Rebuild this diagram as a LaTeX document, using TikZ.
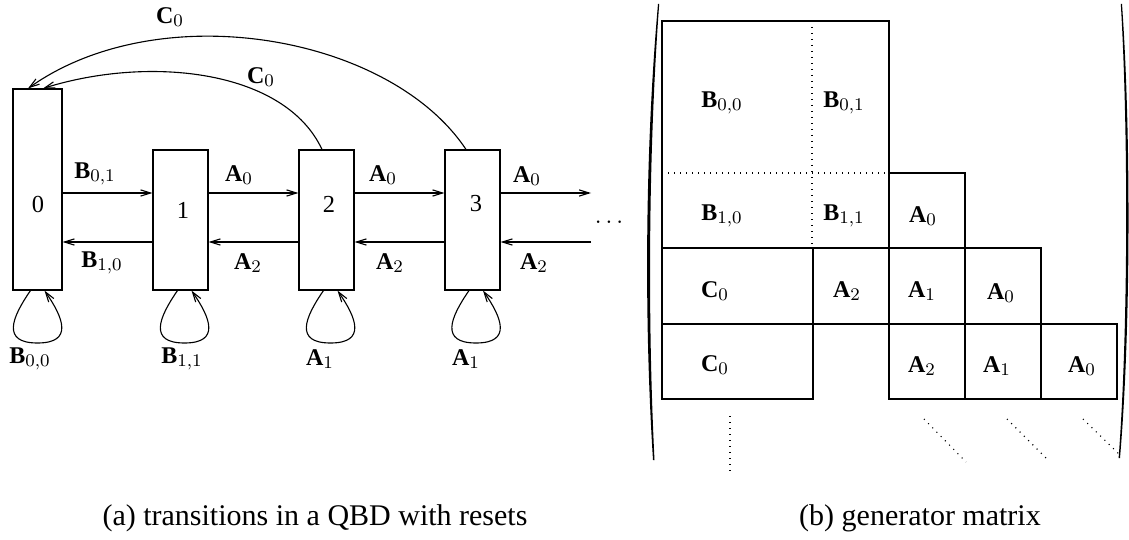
\documentclass[tikz,border=0pt]{standalone}
\usepackage{fontspec}
\setmainfont{Liberation Serif}
\usetikzlibrary{arrows.meta}

% self-loop below a state: #1 = state node, #2 = x of the loop's centre
\newcommand\selfloop[2]{%
  \draw[arr] (#1.south -| #2-7,0)
    .. controls (#2-26,318) and (#2-36,343) .. (#2,343)
    .. controls (#2+36,343) and (#2+26,318) .. (#1.south -| #2+7,0);}

\begin{document}
\begin{tikzpicture}[x=0.45pt,y=-0.45pt,
  line width=0.5pt,
  arr/.style={-{Straight Barb[length=4.5pt,width=2.8pt]}},
  state/.style={draw, inner sep=0pt},
  lab/.style={inner sep=0pt, font=\fontsize{10.8}{13}\selectfont},
  num/.style={inner sep=0pt, font=\fontsize{11}{13}\selectfont},
  captext/.style={inner sep=0pt, font=\fontsize{13.5}{16}\selectfont},
  dots/.style={dash pattern=on 0.45pt off 2.25pt},
]
\useasboundingbox (0,0) rectangle (1129,540);

% ---------- (a) level states of the QBD ----------
\node[state, minimum width=49*0.45pt, minimum height=201*0.45pt] (b0) at (37.5,189.5) {};
\node[state, minimum width=55*0.45pt, minimum height=140*0.45pt] (b1) at (180.5,220) {};
\node[state, minimum width=55*0.45pt, minimum height=140*0.45pt] (b2) at (326.5,220) {};
\node[state, minimum width=55*0.45pt, minimum height=140*0.45pt] (b3) at (472.5,220) {};

\node[num] (n0) at (38,204) {0};
\node[num] (n1) at (183,210) {1};
\node[num] (n2) at (329,204) {2};
\node[num] (n3) at (476,204) {3};

% forward and backward transitions
\coordinate (fwd) at (591,193);
\coordinate (bwd) at (591,242);
\draw[arr] (b0.east |- 0,193) -- (b1.west |- 0,193);
\draw[arr] (b1.east |- 0,193) -- (b2.west |- 0,193);
\draw[arr] (b2.east |- 0,193) -- (b3.west |- 0,193);
\draw[arr] (b3.east |- 0,193) -- (fwd);
\draw[arr] (b1.west |- 0,242) -- (b0.east |- 0,242);
\draw[arr] (b2.west |- 0,242) -- (b1.east |- 0,242);
\draw[arr] (b3.west |- 0,242) -- (b2.east |- 0,242);
\draw[arr] (bwd) -- (b3.east |- 0,242);

\node[lab] (lb01) at (95,174)  {$\mathbf{B}_{0,1}$};
\node[lab] (lb10) at (102,263) {$\mathbf{B}_{1,0}$};
\node[lab] (la01) at (239,175) {$\mathbf{A}_{0}$};
\node[lab] (la21) at (248,263) {$\mathbf{A}_{2}$};
\node[lab] (la02) at (383,175) {$\mathbf{A}_{0}$};
\node[lab] (la22) at (390,263) {$\mathbf{A}_{2}$};
\node[lab] (la03) at (527,176) {$\mathbf{A}_{0}$};
\node[lab] (la23) at (534,263) {$\mathbf{A}_{2}$};
\node[lab, anchor=base] (more) at (609,224) {$\ldots$};

% self-loops
\selfloop{b0}{37.5}
\selfloop{b1}{184.5}
\selfloop{b2}{330.5}
\selfloop{b3}{476}
\node[lab] (lb00) at (30,359)  {$\mathbf{B}_{0,0}$};
\node[lab] (lb11) at (182,359) {$\mathbf{B}_{1,1}$};
\node[lab] (la12) at (320,359) {$\mathbf{A}_{1}$};
\node[lab] (la13) at (466,359) {$\mathbf{A}_{1}$};

% resets back to level 0
\draw[arr] (b2.north -| 322,0) .. controls (285,70) and (150,55) .. (b0.north -| 43,0);
\draw[arr] (b3.north -| 466,0) .. controls (390,35) and (160,-5) .. (b0.north -| 28,0);
\node[lab] (lc1) at (261,77) {$\mathbf{C}_{0}$};
\node[lab] (lc2) at (170,17) {$\mathbf{C}_{0}$};

% ---------- (b) generator matrix ----------
\draw (662,21) rectangle (889,248);
\draw[dots] (812,21) -- (812,248);
\draw[dots] (662,173) -- (889,173);
\draw (889,173) rectangle (965,248);
\draw (662,248) rectangle (813,324);
\draw (813,248) rectangle (889,324);
\draw (889,248) rectangle (965,324);
\draw (965,248) rectangle (1041,324);
\draw (662,324) rectangle (813,399);
\draw (889,324) rectangle (965,399);
\draw (965,324) rectangle (1041,399);
\draw (1041,324) rectangle (1117,399);

\node[lab] (m00) at (722,103)  {$\mathbf{B}_{0,0}$};
\node[lab] (m01) at (844,103)  {$\mathbf{B}_{0,1}$};
\node[lab] (m10) at (722,216)  {$\mathbf{B}_{1,0}$};
\node[lab] (m11) at (844,216)  {$\mathbf{B}_{1,1}$};
\node[lab] (m12) at (923,216)  {$\mathbf{A}_{0}$};
\node[lab] (m20) at (715,291)  {$\mathbf{C}_{0}$};
\node[lab] (m21) at (847,291)  {$\mathbf{A}_{2}$};
\node[lab] (m22) at (922,291)  {$\mathbf{A}_{1}$};
\node[lab] (m23) at (1001,293) {$\mathbf{A}_{0}$};
\node[lab] (m30) at (715,365)  {$\mathbf{C}_{0}$};
\node[lab] (m32) at (922,366)  {$\mathbf{A}_{2}$};
\node[lab] (m33) at (997,366)  {$\mathbf{A}_{1}$};
\node[lab] (m34) at (1082,366) {$\mathbf{A}_{0}$};

% continuation dots
\draw[dots] (730,416) -- (730,471);
\draw[dots] (924,419) -- (966,462);
\draw[dots] (1007,419) -- (1049,461);
\draw[dots] (1083,419) -- (1120,455);

% enclosing parentheses
\fill (658,4) .. controls (645,150) and (644,320) .. (653,460)
  -- (654.5,460) .. controls (647.5,320) and (648.5,150) .. (659.2,4) -- cycle;
\fill (1122,4) .. controls (1131,130) and (1131,330) .. (1120,458)
  -- (1118.6,458) .. controls (1128.3,330) and (1128.3,130) .. (1120.8,4) -- cycle;

% captions
\node[captext] (capa) at (315,518) {(a) transitions in a QBD with resets};
\node[captext] (capb) at (920,518) {(b) generator matrix};
\end{tikzpicture}
\end{document}
